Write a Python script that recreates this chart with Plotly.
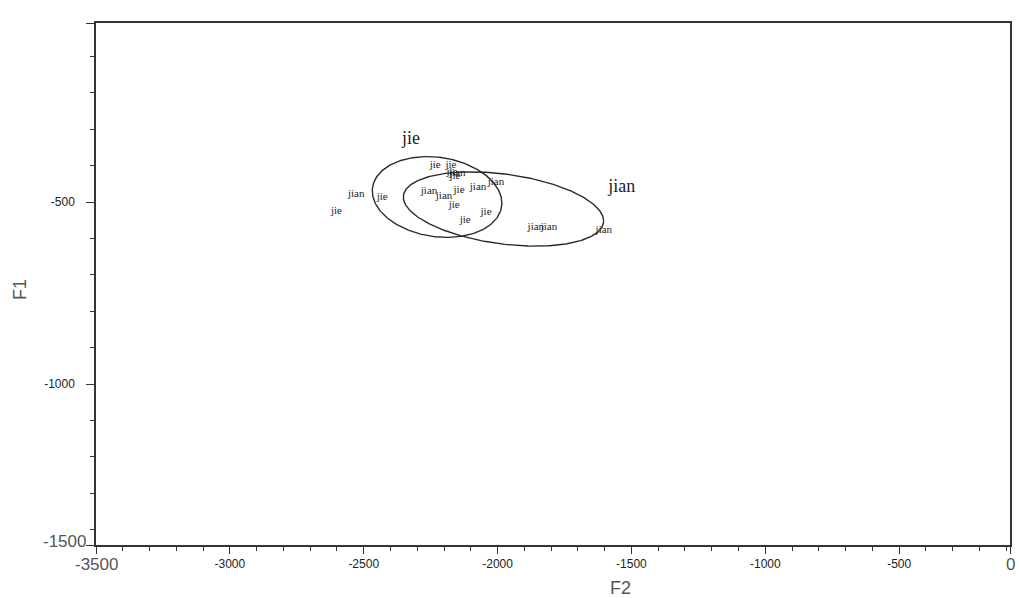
import numpy as np
import plotly.graph_objects as go

# Observation labels and their (F2, F1) scores
obs_labels = ["jie", "jie", "jie", "jian", "jie", "jian", "jie", "jie", "jian", "jian",
              "jie", "jie", "jian", "jian", "jie", "jie", "jian", "jian", "jian"]
obs_f2 = [-2233, -2174, -2170, -2151, -2159, -2528, -2602, -2431, -2256, -2200,
          -2144, -2162, -2073, -2006, -2121, -2043, -1857, -1808, -1603]
obs_f1 = [-398, -398, -418, -420, -428, -478, -525, -486, -470, -483,
          -467, -508, -459, -445, -549, -527, -569, -569, -577]

# Group ellipses: centre, half-extent along F2 / F1, correlation
groups = ["jie", "jian"]
ell_cx = [-2226, -1978]
ell_cy = [-486, -519]
ell_sx = [242, 374]
ell_sy = [111, 102]
ell_rho = [-0.15, -0.32]

# Group name positions
group_lab_x = [-2323, -1536]
group_lab_y = [-327, -461]

# Axis ranges and ticks
x_range = [-3500, -86]
y_range = [-1442, -8]
x_tickvals = [-3500, -3000, -2500, -2000, -1500, -1000, -500, -86]
x_ticktext = ["", "-3000", "-2500", "-2000", "-1500", "-1000", "-500", ""]
y_tickvals = [-1442, -1000, -500, -8]
y_ticktext = ["", "-1000", "-500", ""]

LINE = "#333333"
fig = go.Figure()

t = np.linspace(0, 2 * np.pi, 300)
for cx, cy, sx, sy, rho in zip(ell_cx, ell_cy, ell_sx, ell_sy, ell_rho):
    ex = cx + sx * np.cos(t)
    ey = cy + sy * (rho * np.cos(t) + np.sqrt(1 - rho ** 2) * np.sin(t))
    fig.add_trace(go.Scatter(x=ex, y=ey, mode="lines",
                             line=dict(color="#2a2a2a", width=1.4),
                             hoverinfo="skip", showlegend=False))

fig.add_trace(go.Scatter(x=obs_f2, y=obs_f1, mode="text", text=obs_labels,
                         textposition="middle center",
                         textfont=dict(family="Liberation Serif, Times New Roman, serif",
                                       size=11, color="#222222"),
                         showlegend=False))

fig.add_trace(go.Scatter(x=group_lab_x, y=group_lab_y, mode="text", text=groups,
                         textposition="middle center",
                         textfont=dict(family="Liberation Serif, Times New Roman, serif",
                                       size=18, color="#222222"),
                         showlegend=False))

tickfont = dict(family="Liberation Sans, Arial, sans-serif", size=12, color="#222222")
big = dict(family="Liberation Sans, Arial, sans-serif", size=17, color="#555555")

fig.update_xaxes(range=x_range, showgrid=False, zeroline=False,
                 showline=True, linecolor=LINE, linewidth=1.5, mirror=True,
                 ticks="outside", ticklen=7, tickwidth=1.3, tickcolor=LINE,
                 tickmode="array", tickvals=x_tickvals, ticktext=x_ticktext,
                 tickfont=tickfont, ticklabelstandoff=0,
                 minor=dict(ticks="outside", ticklen=4, tickwidth=1, tickcolor=LINE,
                            tickmode="linear", tick0=-3500, dtick=100))
fig.update_yaxes(range=y_range, showgrid=False, zeroline=False,
                 showline=True, linecolor=LINE, linewidth=1.5, mirror=True,
                 ticks="outside", ticklen=8, tickwidth=1.3, tickcolor=LINE,
                 tickmode="array", tickvals=y_tickvals, ticktext=y_ticktext,
                 tickfont=tickfont, ticklabelstandoff=9,
                 minor=dict(ticks="outside", ticklen=4, tickwidth=1, tickcolor=LINE,
                            tickmode="linear", tick0=0, dtick=100))

annotations = [
    dict(text="0", xref="paper", x=-0.0066, xanchor="right", yref="y", y=0,
         yanchor="middle", font=big, showarrow=False),
    dict(text="-1500", xref="paper", x=-0.009, xanchor="right", yref="paper", y=0.006,
         yanchor="middle", font=big, showarrow=False),
    dict(text="-3500", xref="x", x=-3500, xanchor="center", yref="paper", y=-0.038,
         yanchor="middle", font=big, showarrow=False),
    dict(text="0", xref="paper", x=1.0, xanchor="center", yref="paper", y=-0.038,
         yanchor="middle", font=big, showarrow=False),
    dict(text="F2", xref="paper", x=0.574, xanchor="center", yref="paper", y=-0.082,
         yanchor="middle", font=dict(family="Liberation Sans, Arial, sans-serif",
                                     size=18, color="#555555"), showarrow=False),
    dict(text="F1", xref="paper", x=-0.083, xanchor="center", yref="paper", y=0.489,
         yanchor="middle", textangle=-90,
         font=dict(family="Liberation Sans, Arial, sans-serif", size=18, color="#555555"),
         showarrow=False),
]

fig.update_layout(width=1019, height=598,
                  margin=dict(l=96, r=7, t=23, b=53),
                  paper_bgcolor="white", plot_bgcolor="white",
                  showlegend=False, annotations=annotations)

fig.write_html("out.html")
